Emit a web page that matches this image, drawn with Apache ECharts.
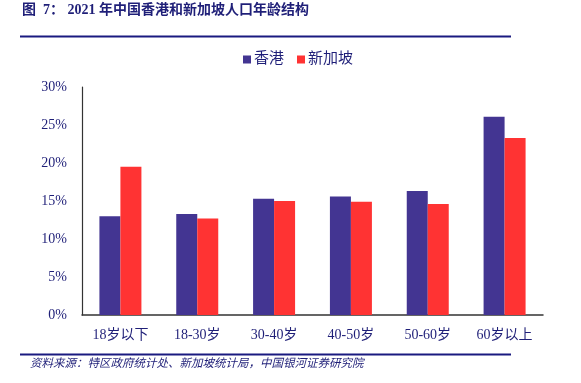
<!DOCTYPE html>
<html><head><meta charset="utf-8">
<script src="https://cdn.jsdelivr.net/npm/echarts@6/dist/echarts.min.js"></script>
<style>html,body{margin:0;padding:0;background:#fff}#c{width:581px;height:383px}</style>
</head><body><div id="c"></div>
<script>
const categories = ['18岁以下','18-30岁','30-40岁','40-50岁','50-60岁','60岁以上'];
const hongKong = [13.0, 13.3, 15.3, 15.6, 16.3, 26.1];
const singapore = [19.5, 12.7, 15.0, 14.9, 14.6, 23.3];
const seriesNames = ['香港','新加坡'];
const titleText = '图  7： 2021 年中国香港和新加坡人口年龄结构';
const sourceText = '资料来源：特区政府统计处、新加坡统计局，中国银河证券研究院';

const navy = '#1f1f78';
const fontSerif = '"Liberation Serif","Times New Roman","Noto Sans CJK SC",serif';
const chart = echarts.init(document.getElementById('c'));
chart.setOption({
  animation: false,
  title: {
    text: titleText, left: 22, top: 3, padding: 0,
    textStyle: {fontSize: 14, fontWeight: 'bold', color: navy, fontFamily: fontSerif}
  },
  graphic: [
    {type: 'line', shape: {x1: 20, y1: 36.5, x2: 511, y2: 36.5}, style: {stroke: '#1a1a80', lineWidth: 2}},
    {type: 'line', shape: {x1: 20, y1: 354.5, x2: 511, y2: 354.5}, style: {stroke: '#1a1a80', lineWidth: 2}},
    {type: 'text', left: 30, top: 357, style: {text: sourceText, font: 'italic 11.5px "Noto Sans CJK SC"', fill: navy}}
  ],
  legend: {
    data: seriesNames, left: 238, top: 47, itemWidth: 8, itemHeight: 8, itemGap: 13,
    icon: 'rect',
    textStyle: {fontSize: 15, color: navy, fontFamily: fontSerif, padding: [0,0,0,-2]}
  },
  grid: {left: 82, right: 38, top: 87, bottom: 68},
  xAxis: {
    type: 'category', data: categories,
    axisLine: {lineStyle: {color: '#333', width: 1.5}},
    axisTick: {inside: true, length: 4, lineStyle: {color: '#333'}},
    axisLabel: {fontSize: 14, color: navy, fontFamily: fontSerif, margin: 13}
  },
  yAxis: {
    type: 'value', min: 0, max: 30, interval: 5,
    splitLine: {show: false},
    axisLine: {show: true, lineStyle: {color: '#333', width: 1.2}},
    axisTick: {show: false},
    axisLabel: {formatter: '{value}%', fontSize: 14, color: navy, fontFamily: fontSerif, margin: 15}
  },
  series: [
    {name: seriesNames[0], type: 'bar', data: hongKong, barWidth: 21, barGap: '0%', itemStyle: {color: '#433592'}},
    {name: seriesNames[1], type: 'bar', data: singapore, barWidth: 21, itemStyle: {color: '#ff3333'}}
  ]
});
</script></body></html>
